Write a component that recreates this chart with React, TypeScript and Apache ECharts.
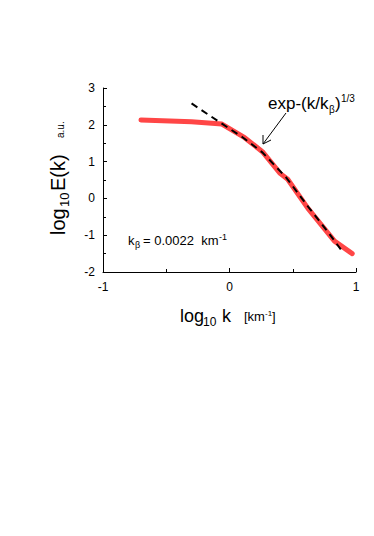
import React, { useEffect, useRef } from "react";
import * as echarts from "echarts";

const xTicks = [-1, 0, 1];
const yTicks = [-2, -1, 0, 1, 2, 3];
const redX = [-0.70, -0.30, -0.06, 0.12, 0.26, 0.40, 0.46, 0.62, 0.83, 0.97];
const redY = [2.13, 2.08, 2.02, 1.65, 1.27, 0.68, 0.52, -0.27, -1.16, -1.50];
const fitX = [-0.30, -0.06, 0.10, 0.26, 0.45, 0.62, 0.78, 0.90];
const fitY = [2.58, 2.03, 1.67, 1.25, 0.56, -0.22, -0.92, -1.48];

const FONT = "Liberation Sans, Arial, sans-serif";

// text placed by its baseline
const t = (x: number, baseline: number, text: string, size: number) => ({
  type: "text",
  x,
  y: baseline - 0.35 * size,
  style: {
    text,
    font: `${size}px ${FONT}`,
    fill: "#000",
    verticalAlign: "middle",
    align: "left",
  },
});

export default function App() {
  const ref = useRef<HTMLDivElement>(null);
  useEffect(() => {
    document.body.style.margin = "0";
    if (!ref.current) return;
    const chart = echarts.init(ref.current, null, { renderer: "svg" });
    chart.setOption({
      animation: false,
      backgroundColor: "#fff",
      grid: { left: 103, right: 18, top: 88, bottom: 264, containLabel: false },
      xAxis: {
        type: "value",
        min: xTicks[0],
        max: xTicks[xTicks.length - 1],
        interval: 1,
        axisLine: { show: true, onZero: false, lineStyle: { color: "#000", width: 1 } },
        axisTick: { show: true, inside: true, length: 4, lineStyle: { color: "#000" } },
        minorTick: { show: true, splitNumber: 2, length: 3, lineStyle: { color: "#000" } },
        splitLine: { show: false },
        axisLabel: { color: "#000", fontSize: 12, fontFamily: FONT, margin: 9 },
      },
      yAxis: {
        type: "value",
        min: yTicks[0],
        max: yTicks[yTicks.length - 1],
        interval: 1,
        axisLine: { show: true, onZero: false, lineStyle: { color: "#000", width: 1 } },
        axisTick: { show: true, inside: true, length: 4, lineStyle: { color: "#000" } },
        minorTick: { show: true, splitNumber: 2, length: 3, lineStyle: { color: "#000" } },
        splitLine: { show: false },
        axisLabel: { color: "#000", fontSize: 12, fontFamily: FONT, margin: 8 },
      },
      series: [
        {
          type: "line",
          data: redX.map((x, i) => [x, redY[i]]),
          symbol: "none",
          lineStyle: { color: "#ff4646", width: 5, cap: "round", join: "round" },
          z: 2,
        },
        {
          type: "line",
          data: fitX.map((x, i) => [x, fitY[i]]),
          symbol: "none",
          lineStyle: { color: "#000", width: 2, type: [7, 5] },
          z: 3,
        },
      ],
      graphic: [
        // y-axis title, rotated (reads bottom to top)
        {
          type: "group",
          x: 65,
          y: 235,
          rotation: Math.PI / 2,
          children: [
            t(0, 0, "log", 20),
            t(28, 4, "10", 13),
            t(44, 0, "E(k)", 20),
            t(97, -1, "a.u.", 10),
          ],
        },
        // x-axis title
        t(180, 322, "log", 18),
        t(203, 326, "10", 12),
        t(222, 322, "k", 18),
        t(244, 321, "[km", 13),
        t(265, 316, "-1", 8),
        t(272, 321, "]", 13),
        // k_beta label
        t(128, 245, "k", 13),
        t(135, 248, "β", 9),
        t(143, 245, "= 0.0022  km", 13),
        t(219, 240, "-1", 9),
        // annotation
        t(268, 109, "exp-(k/k", 17),
        t(329, 113, "β", 10),
        t(335, 109, ")", 17),
        t(341, 102, "1/3", 10),
        {
          type: "line",
          shape: { x1: 286, y1: 113, x2: 263, y2: 144 },
          style: { stroke: "#000", lineWidth: 1 },
        },
        {
          type: "polyline",
          shape: { points: [[263, 135], [263, 144], [271, 140]] },
          style: { stroke: "#000", lineWidth: 1, fill: "none" },
        },
      ],
    });
    return () => chart.dispose();
  }, []);
  return <div ref={ref} style={{ width: 374, height: 536 }} />;
}
